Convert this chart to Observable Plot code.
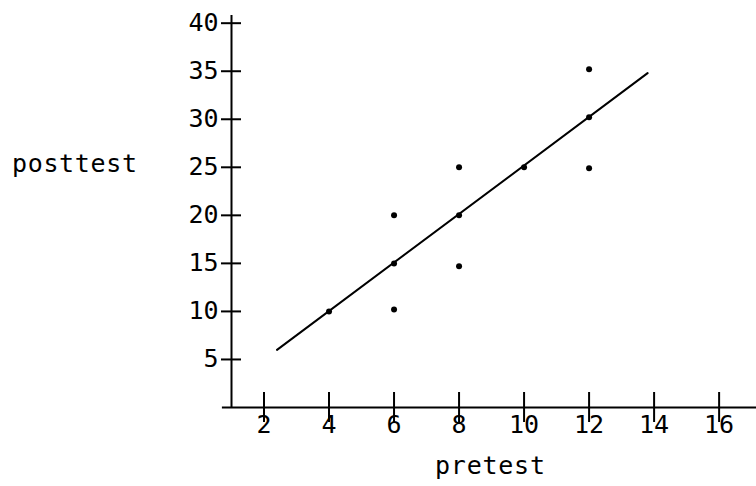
<!DOCTYPE html>
<html>
<head>
<meta charset="utf-8">
<script src="https://cdn.jsdelivr.net/npm/d3@7"></script>
<script src="https://cdn.jsdelivr.net/npm/@observablehq/plot@0.6"></script>
<style>
  html, body { margin: 0; padding: 0; background: #fff; }
  #chart { width: 756px; height: 486px; }
</style>
</head>
<body>
<div id="chart"></div>
<script>
const pretest  = [4, 6, 6, 6, 8, 8, 8, 10, 12, 12, 12];
const posttest = [10, 20, 15, 10.2, 25, 20, 14.7, 25, 35.2, 30.2, 24.9];
const fitLineX = [2.4, 13.8];
const fitLineY = [6, 34.8];
const xTicks = [2, 4, 6, 8, 10, 12, 14, 16];
const yTicks = [5, 10, 15, 20, 25, 30, 35, 40];
const xLabel = "pretest";
const yLabel = "posttest";

const points = pretest.map((x, i) => ({x, y: posttest[i]}));
const fit = fitLineX.map((x, i) => ({x, y: fitLineY[i]}));

const font = "DejaVu Sans Mono, Liberation Mono, monospace";

const chart = Plot.plot({
  width: 756,
  height: 486,
  marginLeft: 231,
  marginRight: 0,
  marginTop: 15,
  marginBottom: 79,
  style: {fontFamily: font, fontSize: "25px", color: "#000", background: "#fff"},
  x: {domain: [1, 17.15], label: null},
  y: {domain: [0, 40.8], label: null},
  marks: [
    // axis lines
    Plot.ruleY([0], {x1: 0.72, x2: 17.15, stroke: "#000", strokeWidth: 2}),
    Plot.ruleX([1], {y1: 0, y2: 40.8, stroke: "#000", strokeWidth: 2}),
    // crossing ticks
    Plot.ruleX(xTicks, {x: d => d, y1: 0, y2: 0, insetTop: -15, insetBottom: -15, stroke: "#000", strokeWidth: 2}),
    Plot.ruleY(yTicks, {y: d => d, x1: 1, x2: 1, insetLeft: -10, insetRight: -10, stroke: "#000", strokeWidth: 2}),
    // tick labels
    Plot.axisX({ticks: xTicks, tickSize: 0, tickPadding: 8, tickFormat: d => String(d), fontSize: 25, fill: "#000", label: null}),
    Plot.axisY({ticks: yTicks, tickSize: 0, tickPadding: 13, tickFormat: d => String(d), fontSize: 25, fill: "#000", label: null}),
    // fit line
    Plot.line(fit, {x: "x", y: "y", stroke: "#000", strokeWidth: 2}),
    // data points
    Plot.dot(points, {x: "x", y: "y", r: 3, fill: "#000", stroke: "none"})
  ]
});

// axis titles as real text
const svg = d3.select(chart);
svg.append("text")
  .attr("x", 12).attr("y", 172)
  .attr("text-anchor", "start")
  .attr("font-family", font).attr("font-size", 25)
  .attr("textLength", 125).attr("lengthAdjust", "spacing")
  .attr("fill", "#000")
  .text(yLabel);
svg.append("text")
  .attr("x", 435).attr("y", 474)
  .attr("text-anchor", "start")
  .attr("font-family", font).attr("font-size", 25)
  .attr("textLength", 110).attr("lengthAdjust", "spacing")
  .attr("fill", "#000")
  .text(xLabel);

document.getElementById("chart").appendChild(chart);
</script>
</body>
</html>
